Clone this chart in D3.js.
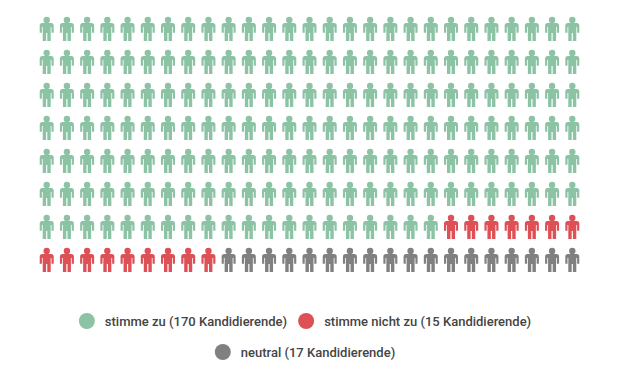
<!DOCTYPE html>
<html>
<head>
<meta charset="utf-8">
<script src="https://cdn.jsdelivr.net/npm/d3@7"></script>
<style>
  html, body { margin: 0; padding: 0; background: #fff; }
  text { font-family: Roboto, sans-serif; font-weight: 500; font-size: 13px; fill: #444; }
</style>
</head>
<body>
<div id="chart"></div>
<script>
// legend entries
var categories = ["stimme zu", "stimme nicht zu", "neutral"];
var candidates = [170, 15, 17];
// number of icons really drawn in the picture per category
var iconCounts = [182, 16, 18];
var colors = ["#8cc3a5", "#dd5055", "#808080"];

var width = 620, height = 377;
var nCols = 27, nRows = 8;

var svg = d3.select("#chart")
    .append("svg")
    .attr("width", width)
    .attr("height", height)
    .style("display", "block");

// one entry per icon, filled row by row
var icons = [];
iconCounts.forEach(function (n, c) {
    d3.range(n).forEach(function () { icons.push(c); });
});

var x = d3.scalePoint().domain(d3.range(nCols)).range([46.7, 572.3]);
var y = d3.scalePoint().domain(d3.range(nRows)).range([29, 260]);

// person icon, drawn around its own centre (14 x 24)
var personBody = "M-4.4,-6 H4.4 Q7,-6 7,-3.4 V3.8 H4.8 V-2 H4 V12 H0.6 V4 H-0.6 V12 H-4 V-2 H-4.8 V3.8 H-7 V-3.4 Q-7,-6 -4.4,-6 Z";

var person = svg.append("g")
    .selectAll("g")
    .data(icons)
    .enter()
    .append("g")
    .attr("transform", function (d, i) {
        return "translate(" + x(i % nCols) + "," + y(Math.floor(i / nCols)) + ")";
    })
    .attr("fill", function (d) { return colors[d]; });

person.append("circle")
    .attr("cy", -9)
    .attr("r", 3.2);

person.append("path")
    .attr("d", personBody);

// Legend, two centred lines
var legendRows = [[0, 1], [2]];
var legendRowY = d3.scalePoint().domain([0, 1]).range([321, 352]);
var legendCentre = 305;
var swatchR = 8, textGap = 10, itemGap = 11;

legendRows.forEach(function (row, r) {
    var g = svg.append("g");
    var cursor = 0;
    row.forEach(function (c) {
        var item = g.append("g").attr("transform", "translate(" + cursor + ",0)");
        item.append("circle")
            .attr("cx", swatchR)
            .attr("r", swatchR)
            .attr("fill", colors[c]);
        var label = item.append("text")
            .attr("x", swatchR * 2 + textGap)
            .attr("dy", "0.35em")
            .text(categories[c] + " (" + candidates[c] + " Kandidierende)");
        cursor += swatchR * 2 + textGap + label.node().getComputedTextLength() + itemGap;
    });
    var total = cursor - itemGap;
    g.attr("transform", "translate(" + (legendCentre - total / 2) + "," + legendRowY(r) + ")");
});
</script>
</body>
</html>
